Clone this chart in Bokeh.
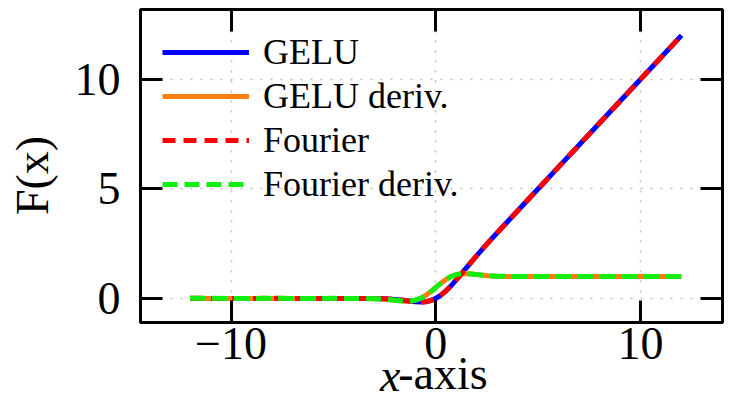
import math
from bokeh.plotting import figure
from bokeh.models import Range1d, FixedTicker, LinearAxis, Label, CustomJSTickFormatter
from bokeh.embed import file_html
from bokeh.resources import INLINE

# ---- data ----
x_vals = [-12, -10, -8, -6, -5, -4, -3.5, -3, -2.5, -2, -1.75, -1.5, -1.25, -1,
          -0.75, -0.5, -0.25, 0, 0.25, 0.5, 0.75, 1, 1.25, 1.5, 1.75, 2, 2.5,
          3, 3.5, 4, 5, 6, 8, 10, 12]
gelu = [0, 0, 0, 0, 0, -0.0001, -0.0008, -0.004, -0.0155, -0.0455, -0.0701,
        -0.1002, -0.132, -0.1587, -0.17, -0.1543, -0.1003, 0, 0.1497, 0.3457,
        0.58, 0.8413, 1.118, 1.3998, 1.6799, 1.9545, 2.4845, 2.996, 3.4992,
        3.9999, 5, 6, 8, 10, 12]
gelu_deriv = [0, 0, 0, 0, 0, -0.0005, -0.0028, -0.012, -0.0376, -0.0852,
              -0.1109, -0.1275, -0.1227, -0.0833, 0.0008, 0.1325, 0.3046, 0.5,
              0.6954, 0.8675, 0.9992, 1.0833, 1.1227, 1.1275, 1.1109, 1.0852,
              1.0376, 1.012, 1.0028, 1.0005, 1.0, 1.0, 1.0, 1.0, 1.0]
fourier = [0.002, -0.001, 0.001, -0.001, 0.0, -0.0002, -0.0009, -0.0042,
           -0.0153, -0.0457, -0.0699, -0.1004, -0.1318, -0.1589, -0.1698,
           -0.1545, -0.1001, 0.0002, 0.1495, 0.3459, 0.5798, 0.8415, 1.1178,
           1.4, 1.6797, 1.9547, 2.4843, 2.9962, 3.499, 4.0001, 4.9998, 6.0002,
           7.9998, 10.0002, 11.998]
fourier_deriv = [0.004, -0.002, 0.002, -0.002, 0.001, -0.0008, -0.0025, -0.0123,
                 -0.0372, -0.0855, -0.1106, -0.1278, -0.1224, -0.0836, 0.0011,
                 0.1322, 0.3049, 0.4997, 0.6957, 0.8672, 0.9995, 1.083, 1.123,
                 1.1272, 1.1112, 1.0849, 1.0379, 1.0117, 1.0031, 1.0002, 1.002,
                 0.998, 1.002, 0.998, 1.004]

x_ticks = [-10, 0, 10]
y_ticks = [0, 5, 10]
series_labels = ["GELU", "GELU deriv.", "Fourier", "Fourier deriv."]
y_title = "F(x)"
x_title_var = "x"
x_title_rest = "\u00a0\u00a0-axis"

FONT = "Liberation Serif"
FS = "46px"

p = figure(width=724, height=401, output_backend="svg", toolbar_location=None,
           x_range=Range1d(-14.42, 14.0), y_range=Range1d(-1.1, 13.18),
           min_border_left=0, min_border_right=2, min_border_top=9,
           min_border_bottom=0)
p.background_fill_color = "white"
p.border_fill_color = "white"
p.outline_line_color = "black"
p.outline_line_width = 3

fmt = CustomJSTickFormatter(code="return tick < 0 ? '\\u2212' + Math.abs(tick) : tick.toString();")
blank = CustomJSTickFormatter(code="return '';")

for ax in p.xaxis:
    ax.ticker = FixedTicker(ticks=x_ticks)
    ax.formatter = fmt
    ax.major_label_standoff = 5
    ax.axis_label = x_title_rest
    ax.axis_label_standoff = -14
    ax.axis_label_text_font = FONT
    ax.axis_label_text_font_style = "normal"
    ax.axis_label_text_font_size = FS
    ax.axis_label_text_color = "black"
for ax in p.yaxis:
    ax.ticker = FixedTicker(ticks=y_ticks)
    ax.major_label_standoff = 20

for ax in list(p.xaxis) + list(p.yaxis):
    ax.major_tick_in = 22
    ax.major_tick_out = 0
    ax.minor_tick_in = 0
    ax.minor_tick_out = 0
    ax.major_tick_line_width = 3
    ax.major_tick_line_color = "black"
    ax.axis_line_width = 3
    ax.axis_line_color = "black"
    ax.major_label_text_font = FONT
    ax.major_label_text_font_size = FS
    ax.major_label_text_color = "black"

# mirrored ticks on top and right
for loc, ticks in (("above", x_ticks), ("right", y_ticks)):
    ax = LinearAxis(ticker=FixedTicker(ticks=ticks), formatter=blank,
                    major_label_text_font_size="1px",
                    major_label_standoff=0, major_tick_in=22, major_tick_out=0,
                    minor_tick_in=0, minor_tick_out=0, major_tick_line_width=3,
                    axis_line_width=3, axis_line_color="black")
    p.add_layout(ax, loc)

for g, ticks in ((p.xgrid, x_ticks), (p.ygrid, y_ticks)):
    g.ticker = FixedTicker(ticks=ticks)
    g.grid_line_color = "#bdbdbd"
    g.grid_line_width = 1.5
    g.grid_line_dash = "2 8"

p.line(x_vals, gelu, line_color="#0000ff", line_width=5, legend_label=series_labels[0])
p.line(x_vals, gelu_deriv, line_color="#ff7f0e", line_width=5, legend_label=series_labels[1])
p.line(x_vals, fourier, line_color="#ff0000", line_width=5, line_dash="13 8",
       legend_label=series_labels[2])
p.line(x_vals, fourier_deriv, line_color="#11ee11", line_width=5, line_dash="15 7",
       legend_label=series_labels[3])

lg = p.legend[0]
lg.location = "top_left"
lg.border_line_color = None
lg.background_fill_alpha = 0
lg.label_text_font = FONT
lg.label_text_font_size = "36px"
lg.label_text_color = "black"
lg.glyph_width = 87
lg.glyph_height = 36
lg.label_height = 36
lg.spacing = 2
lg.label_standoff = 14
lg.margin = 22
lg.padding = 3

# y-axis title (rotated) and the italic "x" of the x-axis title, in the left panel
p.add_layout(Label(x=12, y=147, x_units="screen", y_units="screen", text=y_title,
                   angle=math.pi / 2, text_font=FONT, text_font_size=FS,
                   text_align="center", text_baseline="middle", text_color="black"),
             "left")
p.add_layout(Label(x=400, y=-53, x_units="screen", y_units="screen", text=x_title_var,
                   text_font=FONT, text_font_style="italic", text_font_size=FS,
                   text_align="right", text_baseline="alphabetic", text_color="black"),
             "left")

open("out.html", "w").write(file_html(p, INLINE))
